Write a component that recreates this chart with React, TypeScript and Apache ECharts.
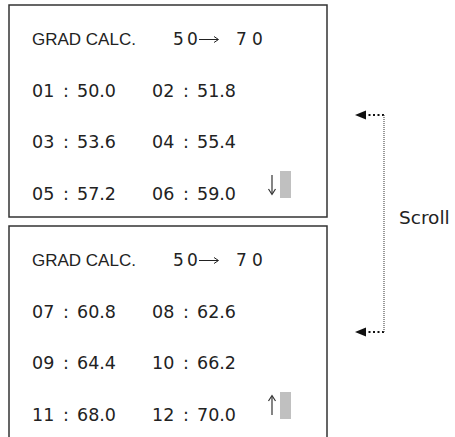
import React, { useEffect, useRef } from "react";
import * as echarts from "echarts";

const title = "GRAD CALC.";
const rangeStart = ["5", "0"];
const rangeEnd = ["7", "0"];
const stepLabels = ["01", "02", "03", "04", "05", "06", "07", "08", "09", "10", "11", "12"];
const gradeValues = [50.0, 51.8, 53.6, 55.4, 57.2, 59.0, 60.8, 62.6, 64.4, 66.2, 68.0, 70.0];
const scrollLabel = "Scroll";

const TXT = "#222";
const LAT = "'Liberation Sans', Arial, sans-serif";
const DIG = "'DejaVu Sans', sans-serif";

function txt(x: number, y: number, text: string, size: number, family: string, align = "left"): any {
  return {
    type: "text",
    x,
    y,
    style: { text, fontSize: size, fontFamily: family, fill: TXT, textVerticalAlign: "middle", textAlign: align },
  };
}

function screen(top: number, page: number, down: boolean): any[] {
  const els: any[] = [];
  const left = 9;
  const right = 327;
  els.push({
    type: "rect",
    shape: { x: left, y: top, width: right - left, height: page === 1 ? 260 : 212 },
    style: { fill: "#fff", stroke: "#333", lineWidth: 1.5 },
  });
  const titleY = top + 34;
  els.push(txt(32, titleY, title, 17, LAT));
  els.push(txt(173, titleY, rangeStart[0], 17, DIG));
  els.push(txt(187, titleY, rangeStart[1], 17, DIG));
  els.push({ type: "line", shape: { x1: 199, y1: titleY + 0.5, x2: 218, y2: titleY + 0.5 }, style: { stroke: TXT, lineWidth: 1 } });
  els.push({ type: "polyline", shape: { points: [[214, titleY - 2.5], [218.5, titleY + 0.5], [214, titleY + 3.5]] }, style: { stroke: TXT, fill: "none", lineWidth: 1 } });
  els.push(txt(236, titleY, rangeEnd[0], 17, DIG));
  els.push(txt(252, titleY, rangeEnd[1], 17, DIG));
  for (let r = 0; r < 3; r++) {
    for (let c = 0; c < 2; c++) {
      const i = page * 6 + r * 2 + c;
      const x0 = c === 0 ? 32 : 152;
      const y = top + 85.5 + r * 51.5;
      els.push(txt(x0, y, stepLabels[i], 17.5, DIG));
      els.push(txt(x0 + 34, y, ":", 17.5, DIG, "center"));
      els.push(txt(x0 + 45, y, gradeValues[i].toFixed(1), 17.5, DIG));
    }
  }
  const barTop = top + 166;
  els.push({ type: "rect", shape: { x: 280, y: barTop, width: 11, height: 27 }, style: { fill: "#c0c0c0" } });
  const a1 = top + 170;
  const a2 = top + 189;
  els.push({ type: "line", shape: { x1: 272, y1: a1, x2: 272, y2: a2 }, style: { stroke: "#333", lineWidth: 1.2 } });
  if (down) {
    els.push({ type: "polyline", shape: { points: [[268.5, a2 - 5], [272, a2 + 0.5], [275.5, a2 - 5]] }, style: { stroke: "#333", fill: "none", lineWidth: 1.2 } });
  } else {
    els.push({ type: "polyline", shape: { points: [[268.5, a1 + 5], [272, a1 - 0.5], [275.5, a1 + 5]] }, style: { stroke: "#333", fill: "none", lineWidth: 1.2 } });
  }
  return els;
}

export default function App() {
  const ref = useRef<HTMLDivElement>(null);
  useEffect(() => {
    if (!ref.current) return;
    const chart = echarts.init(ref.current, undefined, { renderer: "svg" });
    const els: any[] = [...screen(5, 0, true), ...screen(226, 1, false)];
    const yTop = 115;
    const yBot = 332;
    const vx = 384;
    els.push({ type: "line", shape: { x1: 364, y1: yTop, x2: vx, y2: yTop }, style: { stroke: "#111", lineWidth: 2, lineDash: [2, 2.5] } });
    els.push({ type: "line", shape: { x1: 364, y1: yBot, x2: vx, y2: yBot }, style: { stroke: "#111", lineWidth: 2, lineDash: [2, 2.5] } });
    els.push({ type: "line", shape: { x1: vx, y1: yTop, x2: vx, y2: yBot }, style: { stroke: "#555", lineWidth: 1.2, lineDash: [1, 1] } });
    els.push({ type: "polygon", shape: { points: [[355, yTop], [366, yTop - 4.5], [366, yTop + 4.5]] }, style: { fill: "#111" } });
    els.push({ type: "polygon", shape: { points: [[355, yBot], [366, yBot - 4.5], [366, yBot + 4.5]] }, style: { fill: "#111" } });
    els.push(txt(399, 217, scrollLabel, 18.5, DIG));
    chart.setOption({ animation: false, backgroundColor: "#fff", graphic: { elements: els } });
    return () => chart.dispose();
  }, []);
  return <div ref={ref} style={{ position: "fixed", left: 0, top: 0, width: 455, height: 437 }} />;
}
